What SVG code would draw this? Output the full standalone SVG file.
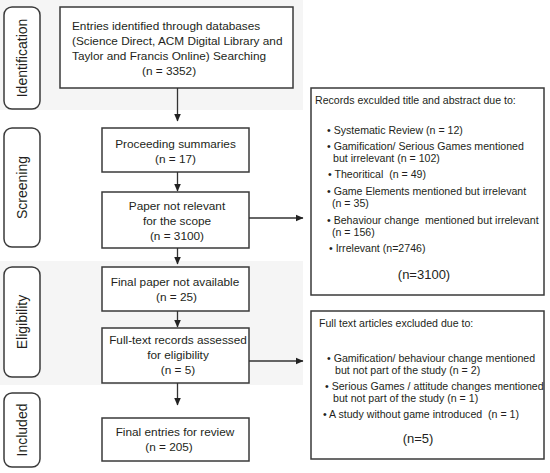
<svg xmlns="http://www.w3.org/2000/svg" width="550" height="473" viewBox="0 0 550 473">
<defs>
<style>
.band{fill:#f5f5f5}
.lab{fill:#ffffff;stroke:#3a3a3a;stroke-width:1.5}
.box{fill:#ffffff;stroke:#3a3a3a;stroke-width:1.5}
.bbox{fill:#ffffff;stroke:#3a3a3a;stroke-width:1.5}
text{font-family:"Liberation Sans",Arial,sans-serif;fill:#231f20}
.t{font-size:11.8px;text-anchor:middle}
.tl{font-size:11.8px}
.v{font-size:14px;text-anchor:middle}
.s{font-size:10.6px}
.n{font-size:13px;text-anchor:middle}
.c{stroke:#333;stroke-width:1.3;fill:none}
</style>
<marker id="ah" markerWidth="8" markerHeight="8" refX="7.5" refY="4" orient="auto" markerUnits="userSpaceOnUse">
<path d="M0,0.5 L8,4 L0,7.5 z" fill="#222"/>
</marker>
</defs>
<rect x="0" y="0" width="550" height="473" fill="#ffffff"/>
<rect class="band" x="0" y="0" width="303" height="110"/>
<rect class="band" x="0" y="261" width="303" height="124"/>

<g id="label-identification">
<rect class="lab" x="4" y="7" width="36" height="102" rx="8"/>
<text class="v" transform="translate(27,58) rotate(-90)">Identification</text>
</g>
<g id="label-screening">
<rect class="lab" x="4" y="128" width="36" height="119" rx="8"/>
<text class="v" transform="translate(27,187.5) rotate(-90)">Screening</text>
</g>
<g id="label-eligibility">
<rect class="lab" x="4" y="267" width="36" height="110" rx="8"/>
<text class="v" transform="translate(27,322) rotate(-90)">Eligibility</text>
</g>
<g id="label-included">
<rect class="lab" x="4" y="393" width="36" height="74" rx="8"/>
<text class="v" transform="translate(27,430) rotate(-90)">Included</text>
</g>

<g id="entries">
<rect class="box" x="60" y="7" width="233" height="81"/>
<text class="tl" x="72" y="30">Entries identified through databases</text>
<text class="tl" x="72" y="45">(Science Direct, ACM Digital Library and</text>
<text class="tl" x="72" y="60">Taylor and Francis Online) Searching</text>
<text class="tl" x="142" y="75">(n = 3352)</text>
</g>
<g id="proceeding">
<rect class="box" x="102" y="128" width="147" height="44"/>
<text class="t" x="175.5" y="148">Proceeding summaries</text>
<text class="t" x="175.5" y="163">(n = 17)</text>
</g>
<g id="notrelevant">
<rect class="box" x="102" y="192" width="147" height="56"/>
<text class="t" x="177" y="210">Paper not relevant</text>
<text class="t" x="177" y="225">for the scope</text>
<text class="t" x="177" y="240">(n = 3100)</text>
</g>
<g id="notavailable">
<rect class="box" x="102" y="267" width="147" height="44"/>
<text class="t" x="175" y="286">Final paper not available</text>
<text class="t" x="176.5" y="301">(n = 25)</text>
</g>
<g id="fulltext">
<rect class="box" x="102" y="328" width="147" height="55"/>
<text class="t" x="178" y="344">Full-text records assessed</text>
<text class="t" x="178" y="359">for eligibility</text>
<text class="t" x="178" y="374">(n = 5)</text>
</g>
<g id="final">
<rect class="box" x="102" y="418" width="147" height="43"/>
<text class="t" x="175" y="436">Final entries for review</text>
<text class="t" x="169" y="451">(n = 205)</text>
</g>

<g id="excluded-title">
<rect class="bbox" x="311" y="88" width="233" height="207"/>
<text class="s" x="315" y="104">Records exculded title and abstract due to:</text>
<text class="s" x="327" y="134">• Systematic Review (n = 12)</text>
<text class="s" x="327" y="150">• Gamification/ Serious Games mentioned</text>
<text class="s" x="333" y="162">but irrelevant (n = 102)</text>
<text class="s" x="328" y="178" xml:space="preserve">• Theoritical  (n = 49)</text>
<text class="s" x="327" y="195">• Game Elements mentioned but irrelevant</text>
<text class="s" x="332" y="207">(n = 35)</text>
<text class="s" x="327" y="224" xml:space="preserve">• Behaviour change  mentioned but irrelevant</text>
<text class="s" x="332" y="236">(n = 156)</text>
<text class="s" x="329" y="252">• Irrelevant (n=2746)</text>
<text class="n" x="424" y="279">(n=3100)</text>
</g>
<g id="excluded-fulltext">
<rect class="bbox" x="311" y="311" width="233" height="148"/>
<text class="s" x="319" y="327">Full text articles excluded due to:</text>
<text class="s" x="327" y="362">• Gamification/ behaviour change mentioned</text>
<text class="s" x="335" y="374">but not part of the study (n = 2)</text>
<text class="s" x="325" y="390">• Serious Games / attitude changes mentioned</text>
<text class="s" x="333" y="402">but not part of the study (n = 1)</text>
<text class="s" x="323" y="418" xml:space="preserve">• A study without game introduced  (n = 1)</text>
<text class="n" x="418" y="443">(n=5)</text>
</g>

<g id="connectors">
<line class="c" x1="177.5" y1="88" x2="177.5" y2="121" marker-end="url(#ah)"/>
<line class="c" x1="177.5" y1="172" x2="177.5" y2="191" marker-end="url(#ah)"/>
<line class="c" x1="177.5" y1="248" x2="177.5" y2="264" marker-end="url(#ah)"/>
<line class="c" x1="177.5" y1="311" x2="177.5" y2="327" marker-end="url(#ah)"/>
<line class="c" x1="177.5" y1="383" x2="177.5" y2="405" marker-end="url(#ah)"/>
<line class="c" x1="249" y1="218" x2="303" y2="218" marker-end="url(#ah)"/>
<line class="c" x1="249" y1="361" x2="303" y2="361" marker-end="url(#ah)"/>
</g>
</svg>
